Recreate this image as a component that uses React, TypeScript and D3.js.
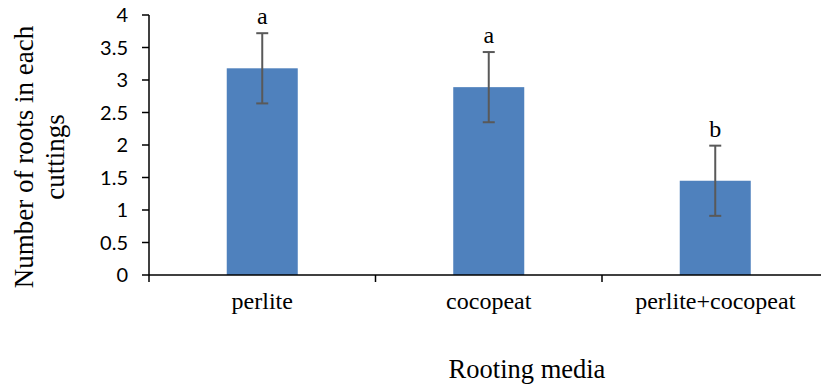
import { useEffect, useRef } from "react";
import * as d3 from "d3";

const categories = ["perlite", "cocopeat", "perlite+cocopeat"];
const means = [3.18, 2.89, 1.45];
const errors = [0.54, 0.54, 0.54];
const letters = ["a", "a", "b"];
const yTicks = [0, 0.5, 1, 1.5, 2, 2.5, 3, 3.5, 4];

const WIDTH = 821;
const HEIGHT = 385;

export default function App() {
  const ref = useRef<SVGSVGElement | null>(null);

  useEffect(() => {
    if (!ref.current) return;
    const svg = d3.select(ref.current);
    svg.selectAll("*").remove();

    const x = d3
      .scaleBand<string>()
      .domain(categories)
      .range([149, 828.5])
      .paddingInner(0.6865)
      .paddingOuter(0.6865 / 2);
    const y = d3.scaleLinear().domain([0, 4]).range([275, 15]);

    const data = categories.map((c, i) => ({ c, m: means[i], e: errors[i], l: letters[i] }));

    // bars
    svg
      .append("g")
      .selectAll("rect")
      .data(data)
      .join("rect")
      .attr("x", (d) => x(d.c)!)
      .attr("y", (d) => y(d.m))
      .attr("width", x.bandwidth())
      .attr("height", (d) => y(0) - y(d.m))
      .attr("fill", "#4f81bd");

    // error bars
    const eb = svg.append("g").attr("stroke", "#595959").attr("stroke-width", 2);
    data.forEach((d) => {
      const cx = x(d.c)! + x.bandwidth() / 2;
      eb.append("line").attr("x1", cx).attr("x2", cx).attr("y1", y(d.m + d.e)).attr("y2", y(d.m - d.e));
      [d.m + d.e, d.m - d.e].forEach((v) => {
        eb.append("line").attr("x1", cx - 6).attr("x2", cx + 6).attr("y1", y(v)).attr("y2", y(v));
      });
    });

    // letters
    svg
      .append("g")
      .selectAll("text")
      .data(data)
      .join("text")
      .attr("x", (d) => x(d.c)! + x.bandwidth() / 2)
      .attr("y", (d) => y(d.m + d.e) - 9)
      .attr("text-anchor", "middle")
      .attr("font-family", "Liberation Serif")
      .attr("font-size", 24)
      .text((d) => d.l);

    // y axis
    const ya = svg.append("g").attr("stroke", "#000").attr("stroke-width", 1.5);
    ya.append("line").attr("x1", 149).attr("x2", 149).attr("y1", y(4)).attr("y2", y(0));
    yTicks.forEach((t) => {
      ya.append("line").attr("x1", 142).attr("x2", 149).attr("y1", y(t)).attr("y2", y(t));
    });
    svg
      .append("g")
      .selectAll("text")
      .data(yTicks)
      .join("text")
      .attr("x", 128)
      .attr("y", (d) => y(d))
      .attr("dy", "0.36em")
      .attr("text-anchor", "end")
      .attr("font-family", "Lato")
      .attr("font-size", 20)
      .text((d) => String(d));

    // x axis
    const xa = svg.append("g").attr("stroke", "#000").attr("stroke-width", 1.5);
    const [r0, r1] = x.range();
    xa.append("line").attr("x1", r0).attr("x2", r1).attr("y1", y(0)).attr("y2", y(0));
    d3.range(categories.length + 1).forEach((i) => {
      const bx = r0 + i * x.step();
      xa.append("line").attr("x1", bx).attr("x2", bx).attr("y1", y(0)).attr("y2", y(0) + 7);
    });
    svg
      .append("g")
      .selectAll("text")
      .data(categories)
      .join("text")
      .attr("x", (d) => x(d)! + x.bandwidth() / 2)
      .attr("y", 309)
      .attr("text-anchor", "middle")
      .attr("font-family", "Liberation Serif")
      .attr("font-size", 24)
      .text((d) => d);

    // axis titles
    svg
      .append("text")
      .attr("x", 527)
      .attr("y", 378)
      .attr("text-anchor", "middle")
      .attr("font-family", "Liberation Serif")
      .attr("font-size", 26.5)
      .text("Rooting media");

    const yl = svg
      .append("text")
      .attr("transform", "translate(0,157) rotate(-90)")
      .attr("text-anchor", "middle")
      .attr("font-family", "Liberation Serif")
      .attr("font-size", 27);
    yl.append("tspan").attr("x", 0).attr("y", 33).text("Number of roots in each");
    yl.append("tspan").attr("x", 0).attr("y", 64).text("cuttings");
  }, []);

  return (
    <svg
      ref={ref}
      width={WIDTH}
      height={HEIGHT}
      style={{ position: "absolute", left: 0, top: 0, background: "#fff" }}
    />
  );
}
